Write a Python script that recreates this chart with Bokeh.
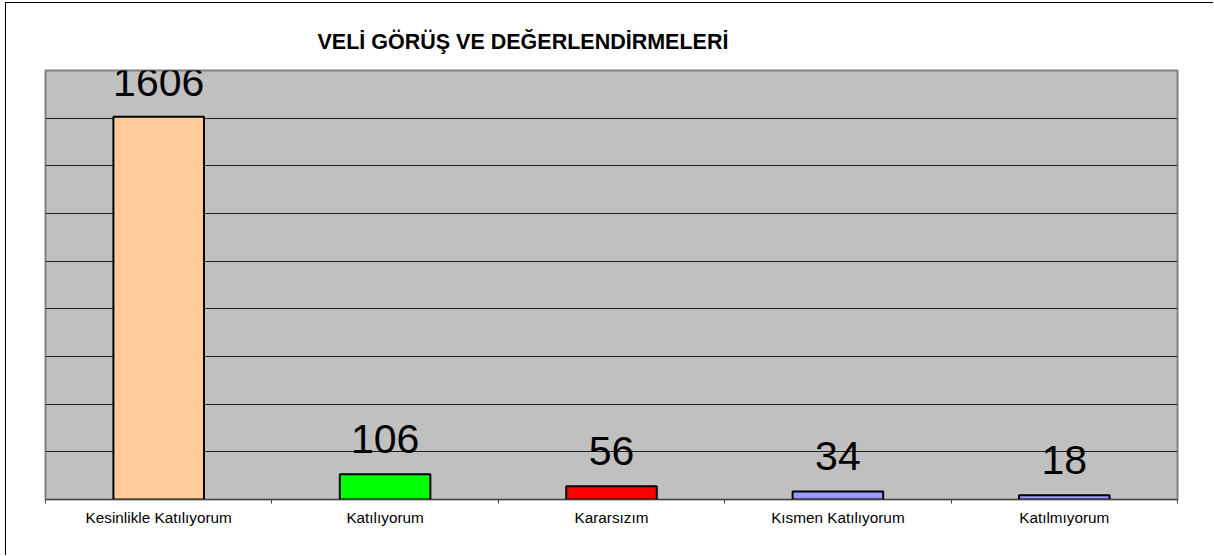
from bokeh.plotting import figure
from bokeh.models import ColumnDataSource, LabelSet, FixedTicker, Grid, LinearAxis, Range1d, Title
from bokeh.core.properties import value
from bokeh.embed import file_html
from bokeh.resources import INLINE
import numpy as np

categories = ["Kesinlikle Katılıyorum", "Katılıyorum", "Kararsızım", "Kısmen Katılıyorum", "Katılmıyorum"]
values = [1606, 106, 56, 34, 18]
colors = ["#FFCC99", "#00FF00", "#FF0000", "#9999FF", "#9999FF"]
title_text = "VELİ GÖRÜŞ VE DEĞERLENDİRMELERİ"

xpos = np.arange(len(categories)) + 0.5
src = ColumnDataSource(dict(x=xpos, top=values, color=colors, label=[str(v) for v in values]))

FONT = "Liberation Sans"

p = figure(width=1208, height=553, output_backend="svg", toolbar_location=None,
           x_range=Range1d(0, len(categories)), y_range=Range1d(0, 1800),
           x_axis_location=None, y_axis_location=None,
           min_border_left=39, min_border_right=37, min_border_top=67, min_border_bottom=57)
p.styles = {"margin-left": "5px", "margin-top": "2px",
            "border-left": "1px solid #000", "border-top": "1px solid #000"}
for g in p.grid:
    g.visible = False

p.background_fill_color = "#C0C0C0"
p.border_fill_color = "white"
p.outline_line_color = "#808080"
p.outline_line_width = 2

grid = Grid(dimension=1, ticker=FixedTicker(ticks=list(range(200, 1800, 200))),
            grid_line_color="#202020", grid_line_width=1)
p.add_layout(grid)

xaxis = LinearAxis(ticker=FixedTicker(ticks=list(xpos), minor_ticks=list(range(len(categories) + 1))),
                   major_label_overrides={float(x): c for x, c in zip(xpos, categories)},
                   major_tick_out=0, major_tick_in=0, minor_tick_out=4, minor_tick_in=0,
                   minor_tick_line_color="#404040", axis_line_color="#404040", axis_line_width=1,
                   major_label_text_font=FONT, major_label_text_font_size="15.3px",
                   major_label_text_color="black", major_label_standoff=5)
p.add_layout(xaxis, "below")

p.vbar(x="x", top="top", width=0.4, bottom=0, fill_color="color", line_color="black",
       line_width=2, source=src)

labels = LabelSet(x="x", y="top", text="label", source=src, y_offset=21,
                  text_align="center", text_baseline="alphabetic",
                  text_font=value(FONT), text_font_size=value("41px"), text_color="black")
p.add_layout(labels)

t = Title(text=title_text, align="left", offset=272, text_font=FONT, text_font_size="21.5px",
          text_font_style="bold", text_color="black", standoff=33)
p.add_layout(t, "above")

open("out.html", "w").write(file_html(p, INLINE))
